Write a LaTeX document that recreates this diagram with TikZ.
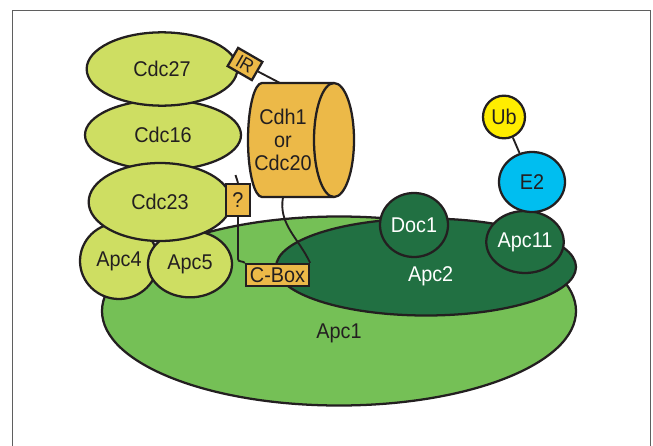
\documentclass[tikz,border=0pt]{standalone}
\usepackage{fontspec}
\setmainfont{Liberation Sans}[FakeStretch = 0.93]
\usetikzlibrary{shapes.geometric}

\definecolor{apclight}{RGB}{206,222,98}
\definecolor{apcgreen}{RGB}{117,192,86}
\definecolor{apcdark}{RGB}{33,112,66}
\definecolor{cdhorange}{RGB}{236,185,72}
\definecolor{etwoblue}{RGB}{0,190,240}
\definecolor{ubyellow}{RGB}{255,237,0}
\definecolor{framegray}{RGB}{95,95,95}
\definecolor{inkblack}{RGB}{35,31,32}

\begin{document}
\begin{tikzpicture}[x = 0.75pt, y = -0.75pt, font = \fontsize{16}{17.5}\selectfont, text = inkblack,
            sub/.style = {ellipse, draw = inkblack, line width = 1.7pt, inner sep = 0pt},
            tag/.style = {rectangle, draw = inkblack, line width = 1.7pt, fill = cdhorange, inner sep = 0pt},
            link/.style = {draw = inkblack, line width = 1.4pt}]
            \useasboundingbox (0,0) rectangle (653,446);
            \draw [framegray, line width = 0.9pt] (12.5,10.5) rectangle (650.5,470);
            
            \node [sub, fill = apcgreen, minimum width = 355.5pt, minimum height = 141.75pt,
                label = {[yshift = -17pt]center:Apc1}] (apcone) at (339,311) {};
            
            \node [sub, fill = apcdark, minimum width = 225pt, minimum height = 72.75pt,
                label = {[xshift = 3.5pt, yshift = -6.75pt, text = white]center:Apc2}] (apctwo) at (426,267) {};
            
            \node [sub, fill = apcdark, text = white, minimum width = 51pt, minimum height = 48pt] (doc) at (414,225) {Doc1};
            \node [sub, fill = apcdark, text = white, minimum width = 49.5pt, minimum height = 46.5pt] (apceleven) at (525,242) {Apc11};
            \node [sub, fill = etwoblue, minimum width = 49.5pt, minimum height = 45pt] (etwo) at (532,182) {E2};
            \node [sub, fill = ubyellow, minimum width = 31.5pt, minimum height = 32pt] (ub) at (504,117) {Ub};
            \draw [link] (ub) -- (etwo);
            
            \node [sub, fill = apclight, minimum width = 58.5pt, minimum height = 57pt] (apcfour) at (119,261) {Apc4};
            \node [sub, fill = apclight, minimum width = 63pt, minimum height = 50pt] (apcfive) at (190,264) {Apc5};
            \node [sub, fill = apclight, minimum width = 117pt, minimum height = 52.5pt] (cdcsixteen) at (163,135) {Cdc16};
            \node [sub, fill = apclight, minimum width = 113pt, minimum height = 55pt] (cdctwentyseven) at (162,69) {Cdc27};
            \node [sub, fill = apclight, minimum width = 107pt, minimum height = 58.5pt] (cdctwentythree) at (160,202) {Cdc23};
            
            \filldraw [fill = cdhorange, draw = inkblack, line width = 1.7pt]
            (334,83) -- (262,83)
            arc [start angle = -90, end angle = -270, x radius = 14, y radius = 57]
            -- (334,197)
            arc [start angle = 90, end angle = -90, x radius = 20, y radius = 57]
            -- cycle;
            \draw [inkblack, line width = 1.7pt]
            (334,197) arc [start angle = 90, end angle = 270, x radius = 20, y radius = 57];
            \node [align = center, inner sep = 0pt] (cdh) at (283,140) {Cdh1\\or\\Cdc20};
            \coordinate (cdhtop) at (280,83);
            \coordinate (cdhbot) at (283,197);
            \coordinate (qtop) at (235.5,175);
            
            \node [tag, rotate = -30, font = \fontsize{14}{15}\selectfont, minimum width = 21pt, minimum height = 15.75pt] (ir) at (245,64) {IR};
            \node [tag, minimum width = 18pt, minimum height = 24pt] (qbox) at (238,200) {?};
            \node [tag, minimum width = 47.25pt, minimum height = 16.5pt] (cbox) at (277.5,275) {C-Box};
            
            \draw [link] (ir.east) -- (cdhtop);
            \draw [link] (qtop) -- (qbox.north);
            \draw [link] (qbox.south) -- ++(0,42) to [out = -90, in = 135] (cbox.north west);
            \draw [link] (cdhbot) to [out = -100, in = 115] (cbox.north east);
        \end{tikzpicture}
\end{document}
